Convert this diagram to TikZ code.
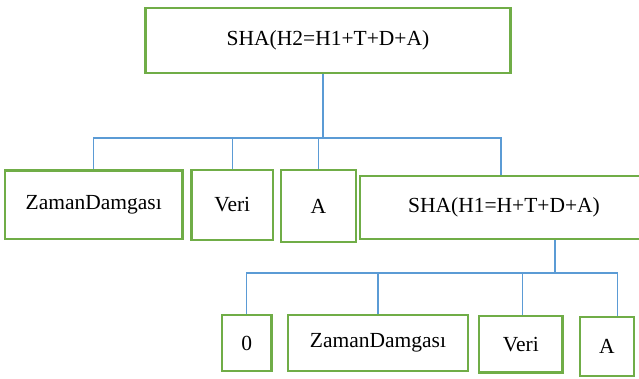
\documentclass[tikz,border=0pt]{standalone}
\usepackage{fontspec}
\setmainfont{Liberation Serif}
\definecolor{boxgreen}{RGB}{112,173,71}
\definecolor{linkblue}{RGB}{91,155,213}
\begin{document}
\begin{tikzpicture}[x=1pt,y=-1pt,
  hbox/.style={draw=boxgreen, line width=2.8pt, rectangle, inner sep=0pt,
    font=\fontsize{21.5}{24}\selectfont},
  conn/.style={draw=linkblue, line width=1.1pt}]
\useasboundingbox (0,0) rectangle (639,378);
\clip (0,0) rectangle (639,378);

% upper level
\node[hbox, minimum width=365pt, minimum height=65pt] (top) at (328,40.5) {SHA(H2=H1+T+D+A)};
\node[hbox, minimum width=177.5pt, minimum height=68.5pt] (zd1) at (93.75,204.75) {ZamanDamgası};
\node[hbox, minimum width=81.5pt, minimum height=70pt] (veri1) at (232.25,205) {Veri};
\node[hbox, minimum width=75pt, minimum height=72pt] (a1) at (318.5,206) {A};
\node[hbox, minimum width=288pt, minimum height=63pt] (sha1) at (504,207.5) {SHA(H1=H+T+D+A)};

% lower level
\node[hbox, minimum width=49.7pt, minimum height=56pt] (zero) at (246.85,343) {0};
\node[hbox, minimum width=180pt, minimum height=56pt] (zd2) at (378,343) {ZamanDamgası};
\node[hbox, minimum width=83.7pt, minimum height=56.7pt] (veri2) at (520.85,344.35) {Veri};
\node[hbox, minimum width=54pt, minimum height=59pt] (a2) at (607,346.5) {A};

% bus lines
\coordinate (busA) at (323,138);
\coordinate (busB) at (555,273);

\draw[conn] ([xshift=-5pt]top.south) -- (busA);
\draw[conn] (zd1.north) |- (busA) -| ([xshift=-3pt]sha1.north);
\draw[conn] (veri1.north) -- (veri1.north |- busA);
\draw[conn] (a1.north) -- (a1.north |- busA);

\draw[conn] ([xshift=51pt]sha1.south) -- (busB);
\draw[conn] (zero.north) |- (busB) -| ([xshift=10.7pt]a2.north);
\draw[conn] (zd2.north) -- (zd2.north |- busB);
\draw[conn] ([xshift=2pt]veri2.north) -- ([xshift=2pt]veri2.north |- busB);
\end{tikzpicture}
\end{document}
